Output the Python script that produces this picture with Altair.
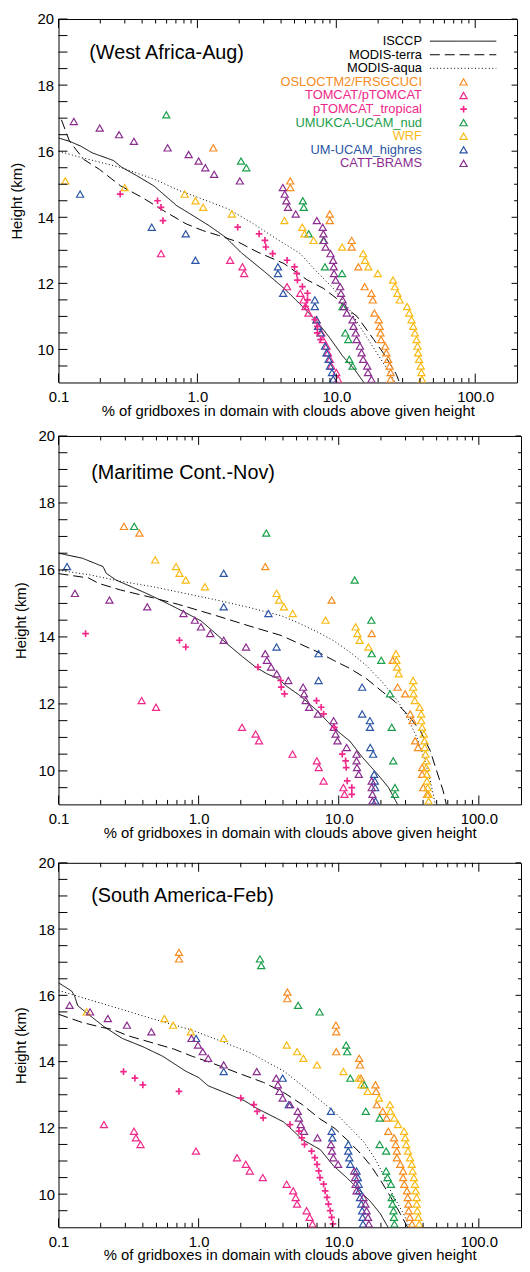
import altair as alt
import pandas as pd

FONT = "Liberation Sans"

OBS_NAMES = ["ISCCP", "MODIS-terra", "MODIS-aqua"]
OBS_DASH = [[1, 0], [10, 5], [1, 2.5]]
MODEL_NAMES = ["OSLOCTM2/FRSGCUCI", "TOMCAT/pTOMCAT", "pTOMCAT_tropical",
               "UMUKCA-UCAM_nud", "WRF", "UM-UCAM_highres", "CATT-BRAMS"]
MODEL_COLORS = ["#F68B1F", "#F0288A", "#F0288A", "#1B9E4B", "#F9BA14", "#2B55A5", "#8B2C8F"]
MODEL_MARK = ["tri", "tri", "plus", "tri", "tri", "tri", "tri"]

X_TICKS = [0.1, 1, 10, 100]
X_MINOR = [0.2, 0.3, 0.4, 0.5, 0.6, 0.7, 0.8, 0.9, 2, 3, 4, 5, 6, 7, 8, 9,
           20, 30, 40, 50, 60, 70, 80, 90]
Y_TICKS = [10, 12, 14, 16, 18, 20]
Y_MINOR = [9.5, 10.5, 11, 11.5, 12.5, 13, 13.5, 14.5, 15, 15.5, 16.5, 17, 17.5, 18.5, 19, 19.5]

# ---------------- West Africa - Aug ----------------
wa_isccp = [(16.4, 0.1), (16.3, 0.12), (16.15, 0.145), (15.95, 0.175), (15.72, 0.248), (15.52, 0.284),
            (15.27, 0.362), (14.95, 0.486), (14.35, 0.71), (14.05, 0.93), (13.75, 1.21), (13.4, 1.59),
            (12.92, 2.08), (12.35, 3.05), (11.85, 4.2), (11.4, 5.4), (10.85, 7.24), (10.35, 8.97),
            (9.8, 11.1), (9.4, 13.5), (9.0, 15.8)]
wa_terra = [(16.95, 0.105), (16.3, 0.12), (15.75, 0.152), (15.45, 0.197), (14.95, 0.28), (14.6, 0.40),
            (14.2, 0.57), (13.8, 0.83), (13.6, 1.09), (13.45, 1.42), (13.25, 1.97), (12.95, 2.7),
            (12.6, 4.2), (12.25, 5.5), (12.1, 6.2), (11.85, 8.07), (11.55, 10.0), (11.25, 11.8),
            (11.0, 14.1), (10.65, 16.2), (10.3, 18.6), (9.95, 21.3), (9.65, 23.7), (9.25, 27.0), (9.0, 28.5)]
wa_aqua = [(16.0, 0.1), (15.85, 0.134), (15.7, 0.185), (15.5, 0.284), (15.15, 0.49), (14.8, 0.75),
           (14.55, 1.09), (14.25, 1.67), (13.85, 2.43), (13.35, 3.7), (12.9, 5.5), (12.35, 7.24),
           (11.85, 9.5), (11.35, 11.8), (10.75, 14.5), (10.15, 17.9), (9.65, 21.3), (9.2, 25.0), (9.0, 26.5)]
wa_oslo = [(16.1, 1.30), (15.1, 4.66), (14.9, 4.66), (14.1, 8.97), (13.9, 8.97), (13.3, 12.9), (13.1, 12.9),
           (12.5, 14.4), (11.9, 16.0), (11.7, 17.9), (11.5, 18.3), (11.1, 18.8), (10.9, 20.2), (10.7, 20.5),
           (10.5, 20.8), (10.3, 21.0), (10.1, 22.5), (9.9, 22.9), (9.7, 23.6), (9.5, 24.2), (9.3, 24.6), (9.1, 24.6)]
wa_tomcat = [(12.9, 0.547), (12.7, 1.72), (12.5, 2.11), (12.3, 2.17), (11.9, 4.42), (11.7, 5.5), (11.5, 5.8),
             (11.3, 6.0), (11.1, 6.3), (10.9, 7.2), (10.7, 7.4), (10.5, 7.8), (10.3, 8.0), (10.1, 8.5),
             (9.9, 8.7), (9.7, 9.0), (9.5, 9.2), (9.3, 10.0), (9.1, 10.3)]
wa_ptomcat = [(14.7, 0.278), (14.5, 0.516), (14.3, 0.547), (13.9, 0.565), (13.7, 1.95), (13.5, 2.78),
              (13.3, 3.06), (13.1, 3.11), (12.9, 3.48), (12.7, 4.42), (12.5, 5.0), (12.3, 5.19), (12.1, 5.25),
              (11.9, 5.7), (11.7, 6.2), (11.5, 6.2), (11.3, 6.0), (10.9, 7.0), (10.7, 7.3), (10.5, 7.3), (10.3, 7.7)]
wa_umukca = [(17.1, 0.597), (15.7, 2.06), (15.5, 2.25), (14.5, 5.74), (14.3, 5.83), (13.5, 6.32), (13.3, 8.07),
             (12.5, 8.28), (12.3, 11.0), (11.3, 11.1), (10.5, 11.6), (10.3, 12.2), (9.7, 12.4), (9.5, 13.1)]
wa_wrf = [(15.1, 0.112), (14.9, 0.30), (14.7, 0.81), (14.5, 0.97), (14.3, 1.10), (14.1, 1.77), (13.9, 4.23),
          (13.7, 5.69), (13.5, 5.9), (13.3, 6.86), (13.1, 11.0), (12.9, 15.6), (12.7, 16.1), (12.5, 17.0),
          (12.3, 19.9), (12.1, 25.6), (11.9, 26.4), (11.7, 27.5), (11.5, 28.6), (11.3, 32.3), (11.1, 33.5),
          (10.9, 34.8), (10.7, 35.8), (10.5, 36.8), (10.3, 37.8), (10.1, 38.4), (9.9, 38.8), (9.7, 39.4),
          (9.5, 40.5), (9.3, 41.0), (9.1, 41.4)]
wa_um = [(14.7, 0.143), (13.7, 0.469), (13.5, 0.824), (12.7, 0.968), (12.5, 3.8), (12.3, 3.8), (11.7, 4.14),
         (11.5, 7.0), (11.3, 7.0), (10.9, 7.2), (10.7, 7.4), (10.5, 7.7), (10.1, 8.3), (9.9, 8.5), (9.7, 8.8),
         (9.5, 9.0), (9.3, 9.3), (9.1, 9.5)]
wa_catt = [(16.9, 0.129), (16.7, 0.198), (16.5, 0.273), (16.3, 0.349), (16.1, 0.61), (15.9, 0.865),
           (15.7, 1.02), (15.5, 1.14), (15.3, 1.32), (15.1, 2.02), (14.9, 4.12), (14.7, 4.25), (14.5, 4.37),
           (14.3, 4.49), (14.1, 5.1), (13.9, 7.24), (13.7, 7.98), (13.5, 8.07), (13.3, 8.15), (13.1, 8.37),
           (12.9, 9.08), (12.7, 9.48), (12.5, 9.58), (12.3, 9.63), (12.1, 9.89), (11.9, 10.66), (11.7, 10.8),
           (11.5, 11.1), (11.3, 11.4), (11.1, 11.9), (10.9, 13.1), (10.7, 13.3), (10.5, 13.8), (10.3, 14.0),
           (10.1, 14.8), (9.9, 15.2), (9.7, 15.6), (9.5, 16.7), (9.3, 16.9), (9.1, 17.9)]

# ---------------- Maritime Cont. - Nov ----------------
mc_isccp = [(16.5, 0.1), (16.35, 0.148), (16.1, 0.208), (15.9, 0.219), (15.7, 0.257), (15.3, 0.424),
            (15.07, 0.553), (14.78, 0.76), (14.48, 1.04), (14.14, 1.29), (13.8, 1.59), (13.4, 2.07),
            (13.1, 2.55), (12.9, 3.07), (12.76, 3.68), (12.51, 4.3), (12.27, 5.2), (11.78, 7.1), (11.28, 9.2),
            (10.89, 12.0), (10.4, 14.8), (9.86, 19.3), (9.51, 22.6), (9.0, 26.3)]
mc_terra = [(15.89, 0.1), (15.76, 0.164), (15.6, 0.193), (15.4, 0.278), (15.17, 0.47), (14.97, 0.72),
            (14.63, 1.35), (14.33, 2.29), (14.04, 3.9), (13.82, 5.1), (13.55, 7.1), (13.3, 9.2), (13.06, 12.0),
            (12.76, 15.7), (12.37, 20.4), (12.07, 25.2), (11.68, 31.1), (11.18, 38.4), (10.6, 45.0),
            (10.0, 50.0), (9.41, 55.6), (9.0, 58.6)]
mc_aqua = [(15.99, 0.1), (15.86, 0.164), (15.66, 0.278), (15.5, 0.47), (15.3, 0.80), (15.1, 1.35),
           (14.88, 2.29), (14.63, 3.9), (14.43, 5.1), (14.14, 7.1), (13.89, 9.2), (13.55, 12.0), (13.15, 15.7),
           (12.66, 20.4), (12.07, 26.6), (11.58, 31.1), (10.99, 36.2), (10.4, 40.6), (9.71, 45.0), (9.0, 48.9)]
mc_oslo = [(17.3, 0.293), (17.1, 0.378), (16.1, 2.99), (15.1, 8.9), (14.1, 17.2), (13.3, 24.3), (12.5, 26.3),
           (12.3, 29.8), (11.7, 32.4), (11.5, 33.6), (10.9, 35.1), (10.7, 36.8), (10.1, 39.4), (9.9, 39.4),
           (9.5, 40.1), (9.3, 42.7)]
mc_tomcat = [(12.1, 0.392), (11.9, 0.497), (11.3, 2.04), (11.1, 2.55), (10.9, 2.7), (10.5, 4.68), (10.3, 6.98),
             (10.1, 7.2), (9.7, 7.8), (9.5, 10.8), (9.3, 11.0)]
mc_ptomcat = [(14.1, 0.156), (13.9, 0.73), (13.7, 0.81), (13.1, 2.65), (12.7, 3.85), (12.5, 3.89), (12.3, 4.1),
              (12.1, 6.94), (11.9, 7.5), (11.7, 7.8), (11.3, 9.3), (10.5, 10.6), (10.3, 11.2), (10.1, 11.3),
              (9.7, 11.5), (9.5, 12.4), (9.3, 12.4)]
mc_umukca = [(17.3, 0.347), (17.1, 3.04), (15.7, 13.0), (14.5, 17.1), (13.5, 17.2), (13.3, 20.1), (12.3, 23.2),
             (11.3, 23.9), (10.3, 24.5), (9.5, 25.2), (9.3, 25.2)]
mc_wrf = [(16.3, 0.49), (16.1, 0.69), (15.9, 0.73), (15.7, 0.81), (15.5, 1.11), (15.3, 3.6), (15.1, 3.75),
          (14.9, 4.06), (14.7, 4.7), (14.5, 8.05), (14.3, 13.2), (14.1, 13.6), (13.9, 14.1), (13.7, 16.3),
          (13.5, 25.6), (13.3, 25.8), (13.1, 26.1), (12.9, 26.8), (12.7, 34.0), (12.5, 34.0), (12.3, 34.2),
          (12.1, 34.9), (11.9, 37.8), (11.7, 38.8), (11.5, 38.8), (11.3, 39.4), (11.1, 40.5), (10.9, 41.0),
          (10.7, 41.1), (10.5, 41.6), (10.3, 42.2), (10.1, 42.2), (9.9, 42.6), (9.7, 42.6), (9.5, 43.1),
          (9.3, 43.8), (9.1, 43.8)]
mc_um = [(16.1, 0.115), (15.9, 1.51), (14.9, 1.51), (14.7, 3.15), (13.7, 3.6), (13.5, 7.18), (12.7, 7.18),
         (12.5, 14.7), (11.7, 14.7), (11.5, 16.7), (11.3, 16.7), (10.7, 16.8), (10.5, 17.6), (9.9, 17.9),
         (9.7, 18.1), (9.5, 18.2), (9.1, 18.3)]
mc_catt = [(15.3, 0.131), (15.1, 0.231), (14.9, 0.43), (14.7, 0.78), (14.5, 0.94), (14.3, 1.04), (14.1, 1.21),
           (13.9, 1.51), (13.7, 2.18), (13.5, 2.99), (13.3, 3.07), (13.1, 3.29), (12.9, 3.61), (12.7, 4.37),
           (12.5, 5.57), (12.3, 5.66), (12.1, 5.81), (11.9, 6.15), (11.7, 7.1), (11.5, 9.2), (11.3, 9.2),
           (11.1, 9.5), (10.9, 9.8), (10.7, 11.4), (10.5, 13.4), (10.3, 13.4), (10.1, 13.5), (9.9, 13.9),
           (9.7, 17.2), (9.5, 17.2), (9.3, 17.4), (9.1, 17.4)]

# ---------------- South America - Feb ----------------
sa_isccp = [(16.38, 0.1), (16.13, 0.124), (15.99, 0.13), (15.69, 0.137), (15.44, 0.162), (15.05, 0.212),
            (14.7, 0.285), (14.45, 0.40), (14.16, 0.555), (13.71, 0.81), (13.52, 1.0), (13.27, 1.17),
            (13.07, 1.53), (12.82, 2.12), (12.58, 2.63), (12.18, 4.04), (11.65, 5.5), (11.34, 7.4), (10.85, 9.2),
            (10.5, 11.4), (10.11, 14.1), (9.76, 17.0), (9.41, 19.8), (9.0, 22.5)]
sa_terra = [(15.43, 0.1), (15.18, 0.148), (15.03, 0.205), (14.98, 0.24), (14.78, 0.314), (14.58, 0.457),
            (14.38, 0.665), (14.16, 0.90), (13.96, 1.24), (13.66, 1.9), (13.37, 2.91), (13.07, 4.04),
            (12.7, 5.5), (12.28, 7.3), (11.98, 9.4), (11.59, 11.8), (11.19, 14.6), (10.85, 17.0), (10.4, 20.0),
            (9.91, 23.5), (9.41, 27.5), (9.0, 31.0)]
sa_aqua = [(16.15, 0.1), (15.94, 0.145), (15.59, 0.276), (15.29, 0.47), (14.95, 0.90), (14.65, 1.38),
           (14.26, 2.35), (13.7, 4.1), (13.3, 5.4), (12.85, 7.3), (12.45, 9.5), (11.95, 12.4), (11.59, 15.0),
           (11.1, 18.0), (10.6, 20.8), (10.1, 23.5), (9.7, 26.5), (9.35, 29.5), (9.0, 31.8)]
sa_oslo = [(17.3, 0.724), (17.1, 0.725), (16.1, 4.3), (15.9, 4.3), (15.1, 9.55), (14.9, 9.6), (14.3, 9.6),
           (14.1, 14.0), (13.9, 14.2), (13.5, 14.4), (13.3, 18.3), (13.1, 18.5), (12.7, 18.7), (12.5, 20.6),
           (12.3, 22.0), (11.9, 22.6), (11.7, 24.8), (11.5, 25.5), (11.3, 26.0), (11.1, 26.0), (10.9, 27.5),
           (10.7, 28.8), (10.5, 28.8), (10.3, 29.4), (10.1, 30.7), (9.9, 31.1), (9.7, 31.4), (9.5, 31.6),
           (9.3, 32.2), (9.1, 33.4)]
sa_tomcat = [(12.1, 0.211), (11.9, 0.346), (11.7, 0.357), (11.5, 0.385), (11.3, 0.957), (11.1, 1.88),
             (10.9, 2.17), (10.7, 2.32), (10.5, 2.87), (10.3, 4.25), (10.1, 4.73), (9.9, 4.93), (9.7, 5.04),
             (9.5, 5.9), (9.3, 6.2), (9.1, 6.5)]
sa_ptomcat = [(13.7, 0.291), (13.5, 0.351), (13.3, 0.40), (13.1, 0.724), (12.9, 2.0), (12.7, 2.48),
              (12.5, 2.62), (12.3, 2.89), (12.1, 4.49), (11.9, 5.2), (11.7, 5.45), (11.5, 5.7), (11.3, 6.4),
              (11.1, 6.75), (10.9, 7.0), (10.7, 7.2), (10.5, 7.35), (10.3, 7.8), (10.1, 8.0), (9.9, 8.25),
              (9.7, 8.45), (9.5, 8.7), (9.3, 8.9), (9.1, 9.1)]
sa_umukca = [(17.1, 2.74), (16.9, 2.80), (15.7, 5.13), (15.5, 7.3), (14.5, 11.3), (14.3, 11.5), (13.5, 12.1),
             (13.3, 15.2), (12.5, 15.6), (12.3, 19.6), (11.5, 19.6), (11.3, 21.8), (10.7, 21.8), (10.5, 22.3),
             (10.3, 23.6), (9.9, 23.9), (9.7, 24.2), (9.5, 24.6), (9.3, 24.8), (9.1, 25.0)]
sa_wrf = [(15.5, 0.159), (15.3, 0.57), (15.1, 0.658), (14.9, 0.88), (14.7, 1.51), (14.5, 4.25), (14.3, 5.05),
          (14.1, 5.6), (13.9, 7.0), (13.7, 10.8), (13.5, 13.9), (13.3, 14.5), (13.1, 16.1), (12.9, 19.4),
          (12.7, 23.2), (12.5, 23.4), (12.3, 24.9), (12.1, 26.5), (11.9, 29.3), (11.7, 29.8), (11.5, 30.3),
          (11.3, 31.2), (11.1, 32.3), (10.9, 33.2), (10.7, 33.7), (10.5, 34.4), (10.3, 35.0), (10.1, 35.4),
          (9.9, 36.0), (9.7, 36.0), (9.5, 36.4), (9.3, 37.0), (9.1, 37.6)]
sa_um = [(14.7, 0.96), (13.7, 1.51), (13.5, 3.98), (12.7, 4.4), (12.5, 8.8), (11.9, 8.9), (11.7, 9.0),
         (11.5, 11.7), (11.3, 11.7), (11.1, 11.9), (10.9, 12.1), (10.7, 13.4), (10.5, 13.7), (10.3, 13.9),
         (10.1, 14.0), (9.9, 14.2), (9.7, 14.5), (9.5, 14.7), (9.3, 14.8), (9.1, 14.9)]
sa_catt = [(15.7, 0.12), (15.5, 0.168), (15.3, 0.225), (15.1, 0.308), (14.9, 0.46), (14.7, 0.89), (14.5, 0.99),
           (14.3, 1.07), (14.1, 1.17), (13.9, 1.51), (13.7, 2.6), (13.5, 3.58), (13.3, 3.68), (13.1, 3.78),
           (12.9, 3.98), (12.7, 4.5), (12.5, 5.1), (12.3, 5.2), (12.1, 5.35), (11.9, 5.65), (11.7, 7.05),
           (11.5, 8.8), (11.3, 8.95), (11.1, 9.15), (10.9, 9.9), (10.7, 12.9), (10.5, 13.1), (10.3, 13.2),
           (10.1, 13.4), (9.9, 15.0), (9.7, 15.5), (9.5, 15.8), (9.3, 16.2), (9.1, 16.4)]

PANELS = [
    dict(title="(West Africa-Aug)", obs=[wa_isccp, wa_terra, wa_aqua],
         models=[wa_oslo, wa_tomcat, wa_ptomcat, wa_umukca, wa_wrf, wa_um, wa_catt],
         w=463, h=367, tpad=13, lpad=5, tx=31, ty=34, legend=True),
    dict(title="(Maritime Cont.-Nov)", obs=[mc_isccp, mc_terra, mc_aqua],
         models=[mc_oslo, mc_tomcat, mc_ptomcat, mc_umukca, mc_wrf, mc_um, mc_catt],
         w=467, h=372, tpad=10, lpad=4, tx=33, ty=37, legend=False),
    dict(title="(South America-Feb)", obs=[sa_isccp, sa_terra, sa_aqua],
         models=[sa_oslo, sa_tomcat, sa_ptomcat, sa_umukca, sa_wrf, sa_um, sa_catt],
         w=467, h=368, tpad=10, lpad=4, tx=33, ty=34, legend=False),
]

XSCALE = alt.Scale(type="log", domain=[0.1, 200], nice=False)
YSCALE = alt.Scale(domain=[9, 20], nice=False, zero=False)
XAXIS = alt.Axis(values=X_TICKS, format=".1f", title="% of gridboxes in domain with clouds above given height",
                 grid=False, ticks=False, domain=False, labelFlush=False, labelOverlap=False,
                 labelFontSize=15, titleFontSize=15, labelPadding=7, titlePadding=-1,
                 labelFont=FONT, titleFont=FONT, labelColor="black", titleColor="black",
                 titleFontWeight="normal")


def yaxis(lpad, tpad):
    return alt.Axis(values=Y_TICKS, format="d", title="Height (km)", grid=False, ticks=False, domain=False,
                    labelFlush=False, labelOverlap=False, labelFontSize=15, titleFontSize=15,
                    labelPadding=lpad, titlePadding=tpad, labelFont=FONT, titleFont=FONT,
                    labelColor="black", titleColor="black", titleFontWeight="normal")


def make_panel(p):
    W, H = p["w"], p["h"]
    YAX = yaxis(p["lpad"], p["tpad"])
    X = alt.X("x:Q", scale=XSCALE, axis=XAXIS)
    Y = alt.Y("y:Q", scale=YSCALE, axis=YAX)

    layers = []
    # observation lines
    for k, name in enumerate(OBS_NAMES):
        df = pd.DataFrame([{"x": v, "y": h, "i": i} for i, (h, v) in enumerate(p["obs"][k])])
        layers.append(alt.Chart(df).mark_line(color="black", strokeWidth=1, strokeDash=OBS_DASH[k], clip=True)
                      .encode(x=X, y=Y, order="i:Q"))
    # model points
    tri_rows, plus_rows = [], []
    for m, pts in enumerate(p["models"]):
        for (h, v) in pts:
            row = {"x": v, "y": h, "c": MODEL_COLORS[m]}
            (plus_rows if MODEL_MARK[m] == "plus" else tri_rows).append(row)
    layers.append(alt.Chart(pd.DataFrame(tri_rows)).mark_point(shape="triangle-up", filled=False, size=52,
                                                                strokeWidth=1.2, opacity=1, clip=True)
                  .encode(x=X, y=Y, color=alt.Color("c:N", scale=None)))
    layers.append(alt.Chart(pd.DataFrame(plus_rows)).mark_point(shape="M-1,0L1,0M0,-1L0,1", filled=False,
                                                                 size=45, strokeWidth=1.7, opacity=1, clip=True)
                  .encode(x=X, y=Y, color=alt.Color("c:N", scale=None)))
    # inward ticks
    for vals, ln in [(X_TICKS, 9), (X_MINOR, 4.5)]:
        df = pd.DataFrame({"x": vals})
        layers.append(alt.Chart(df).mark_rule(color="black", strokeWidth=1)
                      .encode(x=X, y=alt.value(H), y2=alt.value(H - ln)))
        layers.append(alt.Chart(df).mark_rule(color="black", strokeWidth=1)
                      .encode(x=X, y=alt.value(0), y2=alt.value(ln)))
    for vals, ln in [(Y_TICKS, 9), (Y_MINOR, 9)]:
        df = pd.DataFrame({"y": vals})
        layers.append(alt.Chart(df).mark_rule(color="black", strokeWidth=1)
                      .encode(y=Y, x=alt.value(0), x2=alt.value(ln)))
    for vals, ln in [(Y_TICKS, 5.5), (Y_MINOR, 3)]:
        df = pd.DataFrame({"y": vals})
        layers.append(alt.Chart(df).mark_rule(color="black", strokeWidth=1)
                      .encode(y=Y, x=alt.value(W), x2=alt.value(W - ln)))
    # panel title
    layers.append(alt.Chart(pd.DataFrame({"t": [p["title"]]})).mark_text(
        align="left", baseline="middle", fontSize=20, font=FONT, color="black")
        .encode(x=alt.value(p["tx"]), y=alt.value(p["ty"]), text="t:N"))

    if p["legend"]:
        labels = OBS_NAMES + MODEL_NAMES
        colors = ["black"] * 3 + MODEL_COLORS
        ys = [19.33 - i * 0.411 for i in range(len(labels))]
        leg = pd.DataFrame({"y": ys, "label": labels, "c": colors})
        layers.append(alt.Chart(leg).mark_text(align="right", baseline="middle", fontSize=13, font=FONT)
                      .encode(x=alt.value(367), y=Y, text="label:N", color=alt.Color("c:N", scale=None)))
        for k in range(3):
            layers.append(alt.Chart(leg.iloc[[k]]).mark_rule(color="black", strokeWidth=1, strokeDash=OBS_DASH[k])
                          .encode(x=alt.value(375), x2=alt.value(442), y=Y))
        tri = leg.iloc[[3, 4, 6, 7, 8, 9]]
        plus = leg.iloc[[5]]
        layers.append(alt.Chart(tri).mark_point(shape="triangle-up", filled=False, size=52, strokeWidth=1.2,
                                                opacity=1)
                      .encode(x=alt.value(409), y=Y, color=alt.Color("c:N", scale=None)))
        layers.append(alt.Chart(plus).mark_point(shape="M-1,0L1,0M0,-1L0,1", filled=False, size=45,
                                                 strokeWidth=1.7, opacity=1)
                      .encode(x=alt.value(409), y=Y, color=alt.Color("c:N", scale=None)))

    return alt.layer(*layers).properties(width=W, height=H)


p1, p2, p3 = [make_panel(p) for p in PANELS]
top = alt.concat(p1, p2, columns=1, align="none", spacing=9)
chart = alt.concat(top, p3, columns=1, align="none", spacing=14).properties(
    padding={"left": 0, "top": -3, "right": 0, "bottom": 0},
    background="white",
).configure_view(stroke="black", strokeWidth=1).configure_text(font=FONT)

chart.save("out.html", embed_options={"renderer": "svg", "actions": False})
